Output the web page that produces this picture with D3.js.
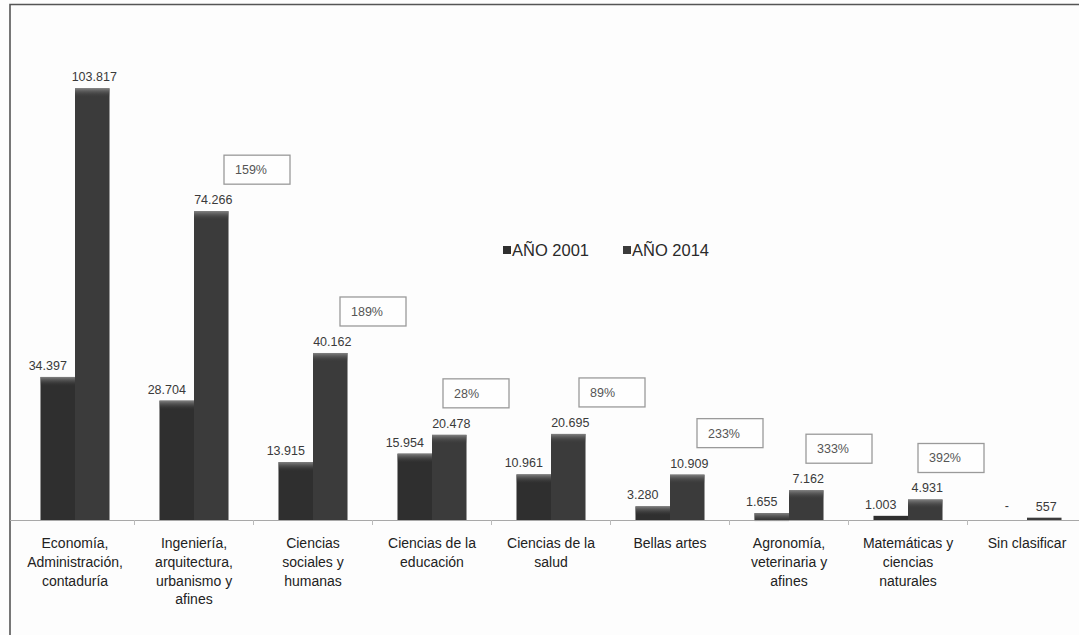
<!DOCTYPE html>
<html>
<head>
<meta charset="utf-8">
<script src="https://cdn.jsdelivr.net/npm/d3@7"></script>
<style>
  html, body { margin: 0; padding: 0; background: #fdfdfd; }
  svg { display: block; }
</style>
</head>
<body>
<svg id="chart" width="1079" height="635"></svg>
<script>
// ---- Data ----
const categories = [
  "Economía, Administración, contaduría",
  "Ingeniería, arquitectura, urbanismo y afines",
  "Ciencias sociales y humanas",
  "Ciencias de la educación",
  "Ciencias de la salud",
  "Bellas artes",
  "Agronomía, veterinaria y afines",
  "Matemáticas y ciencias naturales",
  "Sin clasificar"
];
const categoryLines = [
  ["Economía,", "Administración,", "contaduría"],
  ["Ingeniería,", "arquitectura,", "urbanismo y", "afines"],
  ["Ciencias", "sociales y", "humanas"],
  ["Ciencias de la", "educación"],
  ["Ciencias de la", "salud"],
  ["Bellas artes"],
  ["Agronomía,", "veterinaria y", "afines"],
  ["Matemáticas y", "ciencias", "naturales"],
  ["Sin clasificar"]
];
const seriesNames = ["AÑO 2001", "AÑO 2014"];
const values2001 = [34397, 28704, 13915, 15954, 10961, 3280, 1655, 1003, 0];
const values2014 = [103817, 74266, 40162, 20478, 20695, 10909, 7162, 4931, 557];
const growthLabels = [null, "159%", "189%", "28%", "89%", "233%", "333%", "392%", null];

// ---- Layout (not data) ----
const W = 1079, H = 635;
const baseY = 520;
const growthBoxDx = [0, 30, 27, 11, 28, 27, 17, 10, 0];
const seriesColors = ["#2f2f2f", "#3b3b3b"];

const svg = d3.select("#chart");

// background
svg.append("rect").attr("width", W).attr("height", H).attr("fill", "#fdfdfd");

// frame
svg.append("path")
  .attr("d", `M10,${H + 5} L10,4.5 L${W + 5},4.5`)
  .attr("fill", "none").attr("stroke", "#555").attr("stroke-width", 1.6);

const x = d3.scaleBand().domain(categories).range([15.5, 1086.5])
  .paddingInner(0.42).paddingOuter(0.21);
const xs = d3.scaleBand().domain(seriesNames).range([0, x.bandwidth()]).padding(0);
const y = d3.scaleLinear().domain([0, 120000]).range([baseY, 21]);

const loc = d3.formatLocale({ decimal: ",", thousands: ".", grouping: [3], currency: ["$", ""] });
const fmt = loc.format(",d");

const defs = svg.append("defs");
const grad = defs.append("linearGradient").attr("id", "topShade")
  .attr("x1", 0).attr("y1", 0).attr("x2", 0).attr("y2", 1);
grad.append("stop").attr("offset", 0).attr("stop-color", "#8a8a8a").attr("stop-opacity", 0.9);
grad.append("stop").attr("offset", 1).attr("stop-color", "#3a3a3a").attr("stop-opacity", 0);

const rows = categories.map((c, i) => ({
  cat: c, i,
  vals: [
    { s: seriesNames[0], v: values2001[i] },
    { s: seriesNames[1], v: values2014[i] }
  ]
}));

// axis line + ticks
svg.append("line").attr("x1", 10).attr("x2", W).attr("y1", baseY + 0.5).attr("y2", baseY + 0.5)
  .attr("stroke", "#a8a8a8").attr("stroke-width", 1.2);
const step = x.step();
const bounds = d3.range(1, categories.length).map(k => x(categories[k]) - step * x.paddingInner() / 2);
svg.selectAll("line.tick").data(bounds).join("line").attr("class", "tick")
  .attr("x1", d => d).attr("x2", d => d).attr("y1", baseY).attr("y2", baseY + 5)
  .attr("stroke", "#bbb").attr("stroke-width", 1);

// bars
const g = svg.selectAll("g.grp").data(rows).join("g").attr("class", "grp")
  .attr("transform", d => `translate(${x(d.cat)},0)`);

g.selectAll("rect.bar").data(d => d.vals).join("rect").attr("class", "bar")
  .attr("x", d => xs(d.s))
  .attr("width", xs.bandwidth())
  .attr("y", d => y(d.v))
  .attr("height", d => baseY - y(d.v))
  .attr("fill", (d, j) => seriesColors[j]);

g.selectAll("rect.shade").data(d => d.vals.filter(v => baseY - y(v.v) > 6)).join("rect").attr("class", "shade")
  .attr("x", d => xs(d.s))
  .attr("width", xs.bandwidth())
  .attr("y", d => y(d.v))
  .attr("height", 9)
  .attr("fill", "url(#topShade)");

// value labels
g.selectAll("text.val").data(d => d.vals).join("text").attr("class", "val")
  .attr("x", (d, j) => xs(d.s) + xs.bandwidth() / 2 + (j === 0 ? (d.v === 0 ? -3 : -10) : 2))
  .attr("y", d => y(d.v) - (d.v === 0 ? 10 : 7))
  .attr("text-anchor", "middle")
  .attr("font-family", "'Liberation Sans', Arial, sans-serif")
  .attr("font-size", 12.5)
  .attr("fill", "#3a3a3a")
  .text(d => d.v === 0 ? "-" : fmt(d.v));

// growth boxes
const gb = g.filter(d => growthLabels[d.i] !== null).append("g")
  .attr("transform", d => `translate(${x.bandwidth() / 2 + growthBoxDx[d.i]},${y(values2014[d.i]) - 56})`);
gb.append("rect").attr("width", 66).attr("height", 29)
  .attr("fill", "#fefefe").attr("stroke", "#9a9a9a").attr("stroke-width", 1.3);
gb.append("text").attr("x", 11).attr("y", 19)
  .attr("font-family", "'Liberation Sans', Arial, sans-serif")
  .attr("font-size", 12.5).attr("fill", "#555")
  .text(d => growthLabels[d.i]);

// category labels
const lab = g.append("text")
  .attr("text-anchor", "middle")
  .attr("font-family", "'Liberation Sans', Arial, sans-serif")
  .attr("font-size", 14)
  .attr("fill", "#222");
lab.selectAll("tspan").data(d => categoryLines[d.i]).join("tspan")
  .attr("x", x.bandwidth() / 2)
  .attr("y", (d, k) => 548 + k * 18.8)
  .text(d => d);

// legend
const legend = svg.append("g").attr("transform", "translate(503,256)");
const legendX = [0, 120];
const li = legend.selectAll("g").data(seriesNames).join("g")
  .attr("transform", (d, k) => `translate(${legendX[k]},0)`);
li.append("rect").attr("x", 0).attr("y", -10).attr("width", 8).attr("height", 8)
  .attr("fill", (d, k) => seriesColors[k]);
li.append("text").attr("x", 9).attr("y", 0)
  .attr("font-family", "'Liberation Sans', Arial, sans-serif")
  .attr("font-size", 16.5).attr("fill", "#2a2a2a")
  .text(d => d);
</script>
</body>
</html>
